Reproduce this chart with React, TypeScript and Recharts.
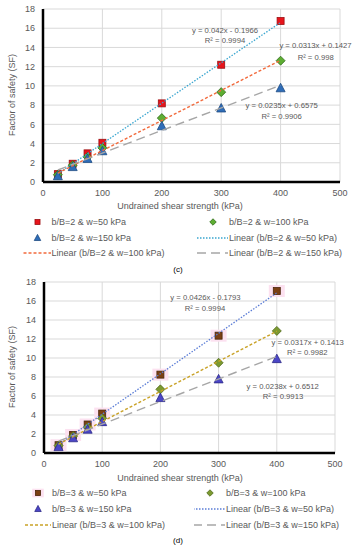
import React from 'react';
import { ScatterChart, Scatter, XAxis, YAxis, CartesianGrid } from 'recharts';

// ---------- data ----------
const shearStrength = [25, 50, 75, 100, 200, 300, 400];
const xTicks = [0, 100, 200, 300, 400, 500];
const yTicks = [0, 2, 4, 6, 8, 10, 12, 14, 16, 18];

// panel (c): b/B = 2
const sfC50 = [0.82, 1.9, 2.98, 4.08, 8.18, 12.2, 16.75];
const sfC100 = [0.75, 1.75, 2.6, 3.55, 6.65, 9.35, 12.62];
const sfC150 = [0.6, 1.55, 2.4, 3.2, 5.8, 7.65, 9.75];
const trendX = [25, 400];
const trendC50 = [0.85, 16.6];
const trendC100 = [0.92, 12.66];
const trendC150 = [1.25, 10.06];
const namesC = ['b/B=2 & w=50 kPa', 'b/B=2 & w=100 kPa', 'b/B=2 & w=150 kPa'];
const eqC = ['y = 0.042x - 0.1966', 'y = 0.0313x + 0.1427', 'y = 0.0235x + 0.6575'];
const r2C = ['R² = 0.9994', 'R² = 0.998', 'R² = 0.9906'];

// panel (d): b/B = 3
const sfD50 = [0.82, 1.9, 3.0, 4.15, 8.25, 12.35, 17.05];
const sfD100 = [0.78, 1.78, 2.7, 3.65, 6.7, 9.5, 12.85];
const sfD150 = [0.62, 1.55, 2.45, 3.25, 5.78, 7.75, 9.88];
const trendD50 = [0.89, 16.86];
const trendD100 = [0.93, 12.82];
const trendD150 = [1.25, 10.17];
const namesD = ['b/B=3 & w=50 kPa', 'b/B=3 & w=100 kPa', 'b/B=3 & w=150 kPa'];
const eqD = ['y = 0.0426x - 0.1793', 'y = 0.0317x + 0.1413', 'y = 0.0238x + 0.6512'];
const r2D = ['R² = 0.9994', 'R² = 0.9982', 'R² = 0.9913'];

const FONT = '"Liberation Sans", Arial, sans-serif';
const TXT = '#595959';

const toPts = (xs: number[], ys: number[]) => xs.map((x, i) => ({ x, y: ys[i] }));

type MarkerStyle = { kind: 'square' | 'diamond' | 'triangle'; fill: string; stroke: string; halo?: string };
type LineStyle = { stroke: string; dash: string; width: number };

function drawMarker(m: MarkerStyle, cx: number, cy: number, s: number = 1) {
  if (m.kind === 'square') {
    return (
      <g>
        {m.halo && <rect x={cx - 8 * s} y={cy - 6 * s} width={16 * s} height={12 * s} fill={m.halo} />}
        <rect x={cx - 3.5 * s} y={cy - 3.5 * s} width={7 * s} height={7 * s} fill={m.fill} stroke={m.stroke} strokeWidth={0.8} />
      </g>
    );
  }
  if (m.kind === 'diamond') {
    const r = 4.5 * s;
    return (
      <polygon
        points={`${cx},${cy - r} ${cx + r},${cy} ${cx},${cy + r} ${cx - r},${cy}`}
        fill={m.fill}
        stroke={m.stroke}
        strokeWidth={0.8}
      />
    );
  }
  return (
    <polygon
      points={`${cx},${cy - 5 * s} ${cx + 4.5 * s},${cy + 3.5 * s} ${cx - 4.5 * s},${cy + 3.5 * s}`}
      fill={m.fill}
      stroke={m.stroke}
      strokeWidth={0.8}
    />
  );
}

const makeShape = (m: MarkerStyle) => (p: any) => drawMarker(m, p.cx, p.cy);
const noShape = () => <g />;

type Annot = { text: string; x: number; y: number };

type PanelProps = {
  top: number;
  height: number;
  margin: { top: number; right: number; left: number; bottom: number };
  yWidth: number;
  series: number[][];
  trends: number[][];
  names: string[];
  markers: MarkerStyle[];
  lines: LineStyle[];
  annots: Annot[];
  yLabelCenter: number;
  xTitleY: number;
  legendRows: number[];
  legendCols: { marker: number; lineStart: number; text: number }[];
  caption: string;
  captionY: number;
};

function LegendItem({ row, col, marker, line, label }: any) {
  const svgLeft = col.text - 32;
  return (
    <div style={{ position: 'absolute', left: svgLeft, top: row - 6, height: 12, display: 'flex', alignItems: 'center', whiteSpace: 'nowrap' }}>
      <svg width={32} height={12} style={{ display: 'block' }}>
        {marker && drawMarker(marker, col.marker - svgLeft, 6, 0.72)}
        {line && (
          <line x1={col.lineStart - svgLeft} x2={31} y1={6} y2={6} stroke={line.stroke} strokeWidth={line.width} strokeDasharray={line.dash} />
        )}
      </svg>
      <span style={{ fontSize: 9, color: TXT, lineHeight: '12px' }}>{label}</span>
    </div>
  );
}

function Panel(p: PanelProps) {
  const items = [
    { marker: p.markers[0], label: p.names[0] },
    { marker: p.markers[1], label: p.names[1] },
    { marker: p.markers[2], label: p.names[2] },
    { line: p.lines[0], label: `Linear (${p.names[0]})` },
    { line: p.lines[1], label: `Linear (${p.names[1]})` },
    { line: p.lines[2], label: `Linear (${p.names[2]})` },
  ];
  return (
    <>
      <div style={{ position: 'absolute', left: 0, top: p.top }}>
        <ScatterChart width={355} height={p.height} margin={p.margin}>
          <CartesianGrid stroke="#d9d9d9" strokeWidth={1} />
          <XAxis
            type="number"
            dataKey="x"
            domain={[0, 500]}
            ticks={xTicks}
            interval={0}
            height={18}
            axisLine={{ stroke: '#000', strokeWidth: 2.5 }}
            tickLine={false}
            tick={{ fontSize: 9, fill: TXT, fontFamily: FONT }}
          />
          <YAxis
            type="number"
            dataKey="y"
            domain={[0, 18]}
            ticks={yTicks}
            interval={0}
            width={p.yWidth}
            axisLine={{ stroke: '#000', strokeWidth: 2.5 }}
            tickLine={false}
            tick={{ fontSize: 9, fill: TXT, fontFamily: FONT }}
          />
          {p.series.map((ys, i) => (
            <Scatter
              key={'s' + i}
              data={toPts(shearStrength, ys)}
              shape={makeShape(p.markers[i])}
              isAnimationActive={false}
            />
          ))}
          {p.trends.map((ys, i) => (
            <Scatter
              key={'t' + i}
              data={toPts(trendX, ys)}
              shape={noShape}
              line={{ stroke: p.lines[i].stroke, strokeWidth: p.lines[i].width, strokeDasharray: p.lines[i].dash }}
              isAnimationActive={false}
            />
          ))}
        </ScatterChart>
      </div>
      <div
        style={{
          position: 'absolute',
          left: 12 - 60,
          top: p.yLabelCenter - 6,
          width: 120,
          height: 12,
          lineHeight: '12px',
          textAlign: 'center',
          transform: 'rotate(-90deg)',
          fontSize: 9,
          color: TXT,
        }}
      >
        Factor of safety (SF)
      </div>
      <div style={{ position: 'absolute', left: 80, width: 200, top: p.xTitleY - 6, lineHeight: '12px', textAlign: 'center', fontSize: 9, color: TXT }}>
        Undrained shear strength (kPa)
      </div>
      {p.annots.map((a, i) => (
        <div
          key={'a' + i}
          style={{ position: 'absolute', left: a.x - 60, width: 120, top: a.y - 5, lineHeight: '10px', textAlign: 'center', fontSize: 7.7, color: TXT, whiteSpace: 'nowrap' }}
        >
          {a.text}
        </div>
      ))}
      {items.map((it, i) => (
        <LegendItem
          key={'l' + i}
          row={p.legendRows[Math.floor(i / 2)]}
          col={p.legendCols[i % 2]}
          marker={(it as any).marker}
          line={(it as any).line}
          label={it.label}
        />
      ))}
      <div style={{ position: 'absolute', left: 158, width: 40, top: p.captionY - 6, lineHeight: '12px', textAlign: 'center', fontSize: 8, color: '#000' }}>
        {p.caption}
      </div>
    </>
  );
}

export default function App() {
  const markersC: MarkerStyle[] = [
    { kind: 'square', fill: '#E8141B', stroke: '#9b0f12' },
    { kind: 'diamond', fill: '#5EAE32', stroke: '#2f6b1c' },
    { kind: 'triangle', fill: '#2F6DB8', stroke: '#1d4a82' },
  ];
  const linesC: LineStyle[] = [
    { stroke: '#3AA6D0', dash: '1.5 1.5', width: 1.3 },
    { stroke: '#F26A3C', dash: '3 2', width: 1.4 },
    { stroke: '#A6A6A6', dash: '9 5', width: 1.4 },
  ];
  const markersD: MarkerStyle[] = [
    { kind: 'square', fill: '#7B4013', stroke: '#4a260a', halo: '#FCE1F0' },
    { kind: 'diamond', fill: '#7C9A30', stroke: '#4f6a1c' },
    { kind: 'triangle', fill: '#4B46C6', stroke: '#2c2888' },
  ];
  const linesD: LineStyle[] = [
    { stroke: '#5B7DD6', dash: '1.5 1.5', width: 1.3 },
    { stroke: '#C9A227', dash: '3 2', width: 1.4 },
    { stroke: '#A6A6A6', dash: '9 5', width: 1.4 },
  ];
  return (
    <div style={{ position: 'absolute', left: 0, top: 0, width: 355, height: 550, background: '#fff', fontFamily: FONT, overflow: 'hidden' }}>
      <Panel
        top={0}
        height={200}
        margin={{ top: 9, right: 15, left: 0, bottom: 0 }}
        yWidth={43}
        series={[sfC50, sfC100, sfC150]}
        trends={[trendC50, trendC100, trendC150]}
        names={namesC}
        markers={markersC}
        lines={linesC}
        annots={[
          { text: eqC[0], x: 225, y: 30.7 },
          { text: r2C[0], x: 225, y: 41 },
          { text: eqC[1], x: 315.5, y: 46.3 },
          { text: r2C[1], x: 315.7, y: 57.7 },
          { text: eqC[2], x: 281.7, y: 106 },
          { text: r2C[2], x: 281.7, y: 117 },
        ]}
        yLabelCenter={95}
        xTitleY={205.7}
        legendRows={[221.7, 237.7, 253.3]}
        legendCols={[
          { marker: 37, lineStart: 23, text: 51.5 },
          { marker: 213, lineStart: 197, text: 229 },
        ]}
        caption="(c)"
        captionY={269.5}
      />
      <Panel
        top={270}
        height={201}
        margin={{ top: 12, right: 20, left: 0, bottom: 0 }}
        yWidth={44}
        series={[sfD50, sfD100, sfD150]}
        trends={[trendD50, trendD100, trendD150]}
        names={namesD}
        markers={markersD}
        lines={linesD}
        annots={[
          { text: eqD[0], x: 205.5, y: 298.3 },
          { text: r2D[0], x: 205, y: 309 },
          { text: eqD[1], x: 307.7, y: 342.7 },
          { text: r2D[1], x: 307.3, y: 353.3 },
          { text: eqD[2], x: 282.7, y: 386.7 },
          { text: r2D[2], x: 283, y: 397.3 },
        ]}
        yLabelCenter={367}
        xTitleY={478}
        legendRows={[493, 508.5, 524.5]}
        legendCols={[
          { marker: 38, lineStart: 25, text: 52 },
          { marker: 210, lineStart: 193, text: 226 },
        ]}
        caption="(d)"
        captionY={541}
      />
    </div>
  );
}
